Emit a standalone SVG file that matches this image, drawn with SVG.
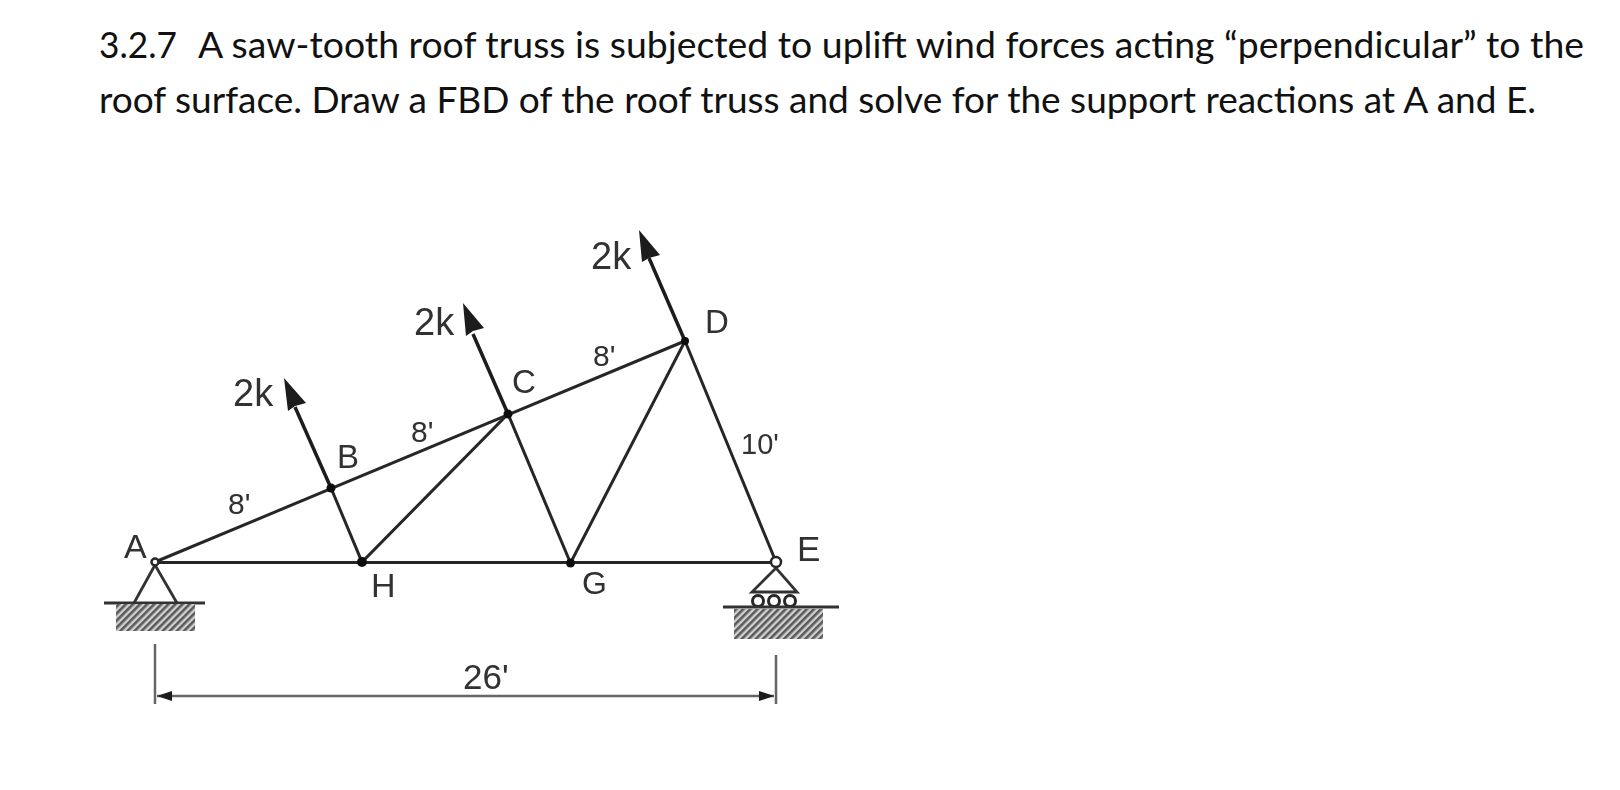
<svg xmlns="http://www.w3.org/2000/svg" width="1620" height="790" viewBox="0 0 1620 790">
<style>
.t{font-family:"Lato","Liberation Sans",sans-serif;font-size:36px;fill:#111}
.l{font-family:"Liberation Sans",Arial,sans-serif;fill:#303030}
.m{stroke:#262626;stroke-width:3;fill:none;stroke-linecap:round}
.f{stroke:#1c1c1c;stroke-width:3.5;fill:none}
.g{stroke:#333;stroke-width:2.8;fill:none}
.d{stroke:#666;stroke-width:2.5;fill:none}
.h{fill:url(#hatch)}
.o{fill:#fff;stroke:#262626;stroke-width:2.5}
.r{fill:#fff;stroke:#262626;stroke-width:3}
.j{fill:#111}
</style>
<defs>
<pattern id="hatch" width="5" height="5" patternUnits="userSpaceOnUse" patternTransform="rotate(45)">
<rect width="5" height="5" fill="#d0d0d0"/><rect width="2.6" height="5" fill="#5a5a5a"/>
</pattern>
<filter id="soft" x="0" y="0" width="1" height="1"><feGaussianBlur stdDeviation="0.55"/></filter>
</defs>
<g id="title">
<text class="t" x="99" y="58" textLength="78" lengthAdjust="spacingAndGlyphs">3.2.7</text>
<text class="t" x="198" y="58" textLength="1386" lengthAdjust="spacingAndGlyphs">A saw-tooth roof truss is subjected to uplift wind forces acting “perpendicular” to the</text>
<text class="t" x="99" y="113" textLength="1437" lengthAdjust="spacingAndGlyphs">roof surface. Draw a FBD of the roof truss and solve for the support reactions at A and E.</text>
</g>
<g filter="url(#soft)">
<g id="connectors">
<path class="m" d="M155 562L685 341"/>
<path class="m" d="M155 562.5H776"/>
<path class="m" d="M331 488L362 562L508 414L570.5 563L685 341L776 562"/>
<path class="f" d="M331 488L295 407"/>
<path class="f" d="M508 414L473 334"/>
<path class="f" d="M685 341L649 258"/>
<path class="d" d="M155 644V704M776 655V704"/>
<path class="d" d="M157 696H774"/>
</g>
<g id="arrowheads" fill="#1a1a1a">
<path d="M284 378L306 403L295 406L288 411Z"/>
<path d="M463 303L484 328L473 331L466 336Z"/>
<path d="M639 230L660 255L649 258L642 262Z"/>
<path d="M157 696L172 691V701Z"/>
<path d="M774 696L759 691V701Z"/>
</g>
<g id="support-A">
<path class="g" d="M155 565L134 603M155 565L177 603"/>
<path class="g" d="M104 603H205"/>
<rect class="h" x="116" y="604" width="79" height="27"/>
<circle class="o" cx="155" cy="562" r="3.5"/>
</g>
<g id="support-E">
<path class="g" d="M776 568L752 592H797Z"/>
<circle class="r" cx="758" cy="601" r="5.5"/>
<circle class="r" cx="774" cy="601" r="5.5"/>
<circle class="r" cx="790" cy="601" r="5.5"/>
<path class="g" d="M723 607H839"/>
<rect class="h" x="734" y="609" width="89" height="30"/>
<circle class="o" cx="776" cy="562" r="5"/>
</g>
<g id="node-B"><circle class="j" cx="331" cy="488" r="4.5"/><text class="l" x="337" y="468" font-size="33">B</text></g>
<g id="node-C"><circle class="j" cx="508" cy="414" r="4.5"/><text class="l" x="512" y="393" font-size="33">C</text></g>
<g id="node-D"><circle class="j" cx="685" cy="341" r="4"/><text class="l" x="705" y="333" font-size="33">D</text></g>
<g id="node-H"><circle class="j" cx="362" cy="562" r="5"/><text class="l" x="371" y="597" font-size="34">H</text></g>
<g id="node-G"><circle class="j" cx="570.5" cy="563" r="4.5"/><text class="l" x="582" y="594" font-size="32">G</text></g>
<g id="node-A"><text class="l" x="124" y="558" font-size="34">A</text></g>
<g id="node-E"><text class="l" x="797" y="561" font-size="35">E</text></g>
<g id="labels">
<text class="l" x="233" y="406" font-size="38">2k</text>
<text class="l" x="414" y="335" font-size="38">2k</text>
<text class="l" x="591" y="269" font-size="38">2k</text>
<text class="l" x="228" y="514" font-size="30">8'</text>
<text class="l" x="411" y="442" font-size="30">8'</text>
<text class="l" x="593" y="366" font-size="30">8'</text>
<text class="l" x="741" y="454" font-size="29">10'</text>
<text class="l" x="463" y="689" font-size="35">26'</text>
</g>
</g>
</svg>
